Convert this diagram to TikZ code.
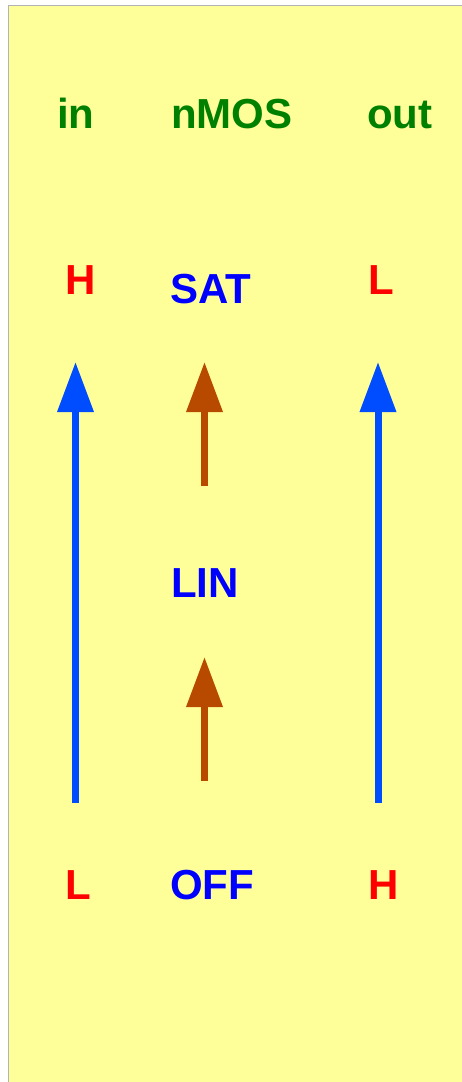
\documentclass[tikz,border=0pt]{standalone}
\usepackage{fontspec}
\setmainfont{Liberation Sans}
\usetikzlibrary{arrows.meta}
\definecolor{panel}{HTML}{FFFF99}
\definecolor{rim}{HTML}{B3B3B3}
\definecolor{headg}{HTML}{008000}
\definecolor{lvl}{HTML}{FF0000}
\definecolor{state}{HTML}{0000FF}
\definecolor{sigarrow}{HTML}{004CFF}
\definecolor{trarrow}{HTML}{B84A00}
\begin{document}
\begin{tikzpicture}[x=1pt,y=1pt,
  lbl/.style={anchor=base west,inner sep=0pt,font=\fontsize{42}{48}\selectfont\bfseries},
  head/.style={lbl,text=headg},
  level/.style={lbl,text=lvl},
  st/.style={lbl,text=state},
  up/.style={line width=7pt,-{Triangle[length=50pt,width=35pt]}},
  sig/.style={up,draw=sigarrow,fill=sigarrow},
  tr/.style={up,draw=trarrow,fill=trarrow}]
\useasboundingbox (0,0) rectangle (461,-1082);
% panel
\fill[white] (0,0) rectangle (461,-1082);
\draw[rim,fill=panel,line width=1pt] (8.5,-5.5) rectangle (470,-1090);
% column headings
\node[head] (hin)   at (57,-128) {in};
\node[head] (hmos)  at (171,-128) {nMOS};
\node[head] (hout)  at (367,-128) {out};
% top row
\node[level] (inH)  at (65,-294) {H};
\node[st]    (sat)  at (170,-303) {SAT};
\node[level] (outL) at (368,-294) {L};
% middle
\node[st]    (lin)  at (171,-597) {LIN};
% bottom row
\node[level] (inL)  at (65,-899) {L};
\node[st]    (off)  at (170,-899) {OFF};
\node[level] (outH) at (368,-899) {H};
% arrow end points
\coordinate (a1s) at (75.5,-803);
\coordinate (a1e) at (75.5,-362);
\coordinate (a2s) at (378,-803);
\coordinate (a2e) at (378,-362);
\coordinate (b1s) at (204.5,-486);
\coordinate (b1e) at (204.5,-362);
\coordinate (b2s) at (204.5,-781);
\coordinate (b2e) at (204.5,-657);
\draw[sig] (a1s) -- (a1e);
\draw[sig] (a2s) -- (a2e);
\draw[tr] (b1s) -- (b1e);
\draw[tr] (b2s) -- (b2e);
\end{tikzpicture}
\end{document}
